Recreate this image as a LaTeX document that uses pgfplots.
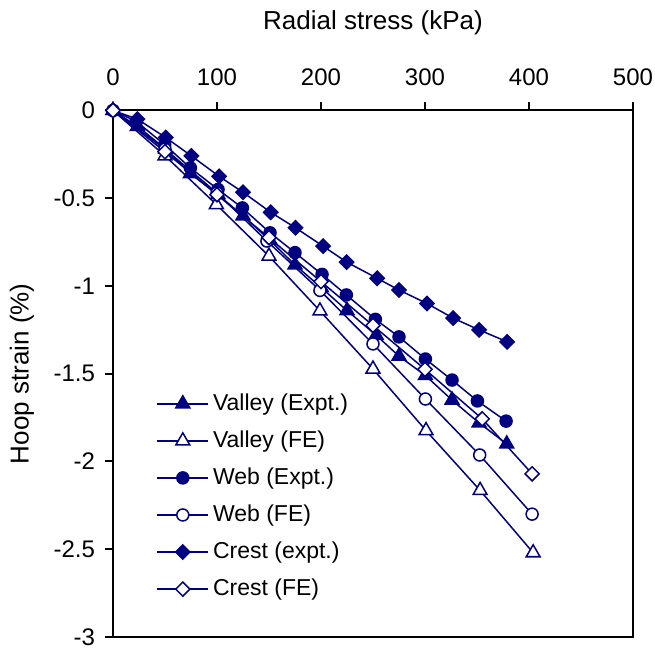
\documentclass[border=0pt]{standalone}
\usepackage{fontspec}
\setmainfont{Liberation Sans}
\usepackage{pgfplots}
\pgfplotsset{compat=1.18}
\definecolor{navy}{RGB}{0,0,128}
\begin{document}
\begin{tikzpicture}
\begin{axis}[
  at={(0pt,0pt)}, anchor=south west,
  scale only axis, width=260pt, height=263.25pt,
  xmin=0, xmax=500, ymin=-3, ymax=0,
  xtick={0,100,200,300,400,500},
  ytick={-3,-2.5,-2,-1.5,-1,-0.5,0},
  xtick pos=upper, ytick pos=left, xticklabel pos=upper,
  tick align=outside, major tick length=4pt,
  axis line style={line width=1pt},
  every tick/.style={black, line width=1pt},
  /pgf/number format/assume math mode=true,
  tick label style={font=\fontsize{12}{14}\selectfont},
  xticklabel style={yshift=5pt},
  yticklabel style={xshift=-1.5pt},
  every axis x label/.style={at={(axis description cs:0.5,1)}, anchor=center, yshift=44pt},
  every axis y label/.style={at={(axis description cs:-0.175,0.5)}, anchor=center, rotate=90},
  label style={font=\fontsize{13}{15}\selectfont},
  xlabel={Radial stress (kPa)},
  ylabel={Hoop strain (\%)},
  legend style={at={(0.083,0.47)}, anchor=north west, draw=none, fill=none,
    font=\fontsize{11.5}{13}\selectfont, row sep=4.7pt, inner sep=0pt},
  legend cell align=left,
  legend image code/.code={\draw[mark repeat=2,mark phase=2] plot coordinates {(0pt,0pt) (12.75pt,0pt) (25.5pt,0pt)};},
  every axis plot/.append style={navy, line width=0.75pt},
  clip=false,
]
\addplot[mark=triangle*, mark size=4pt, mark options={solid, fill=navy}] coordinates {
(0,0) (23.5,-0.09) (50.7,-0.22) (74.4,-0.36) (101,-0.48) (125,-0.60) (151,-0.74) (175,-0.88)
(200.4,-1.01) (225,-1.14) (253,-1.28) (275,-1.40) (300.4,-1.51) (326,-1.65) (352,-1.78) (378.6,-1.90)};
\addlegendentry{Valley (Expt.)}
\addplot[mark=triangle*, mark size=4pt, mark options={solid, fill=white}] coordinates {
(0,0) (50,-0.258) (99.4,-0.536) (150,-0.83) (199,-1.142) (250,-1.473) (301,-1.824) (353,-2.165) (404,-2.52)};
\addlegendentry{Valley (FE)}
\addplot[mark=*, mark size=3pt, mark options={solid, fill=navy}] coordinates {
(0,0) (22.5,-0.0625) (49.7,-0.195) (74.4,-0.327) (101,-0.45) (124.4,-0.555) (151,-0.697) (175,-0.81)
(201,-0.934) (224.4,-1.051) (252.3,-1.19) (275,-1.29) (300.4,-1.416) (326,-1.536) (350.4,-1.655) (378,-1.77)};
\addlegendentry{Web (Expt.)}
\addplot[mark=*, mark size=3pt, mark options={solid, fill=white}] coordinates {
(0,0) (50,-0.22) (100,-0.47) (148,-0.744) (199,-1.025) (250,-1.33) (300.4,-1.644) (352.6,-1.963) (403,-2.30)};
\addlegendentry{Web (FE)}
\addplot[mark=square*, mark size=2.5pt, mark options={solid, rotate=45, fill=navy}] coordinates {
(0,0) (23.4,-0.049) (50.7,-0.154) (75.4,-0.259) (102,-0.375) (125,-0.466) (151.6,-0.58) (175.4,-0.668)
(202,-0.773) (224.7,-0.864) (254,-0.956) (275,-1.023) (302,-1.10) (327,-1.183) (352,-1.25) (379,-1.318)};
\addlegendentry{Crest (expt.)}
\addplot[mark=square*, mark size=2.5pt, mark options={solid, rotate=45, fill=white}] coordinates {
(0,0) (50,-0.235) (100,-0.48) (150,-0.725) (200,-0.975) (250,-1.225) (300,-1.475) (355,-1.757) (403,-2.07)};
\addlegendentry{Crest (FE)}
\end{axis}
\pgfresetboundingbox
\path[use as bounding box] (-56.5pt,-7.5pt) rectangle (271pt,318.5pt);
\end{tikzpicture}
\end{document}
